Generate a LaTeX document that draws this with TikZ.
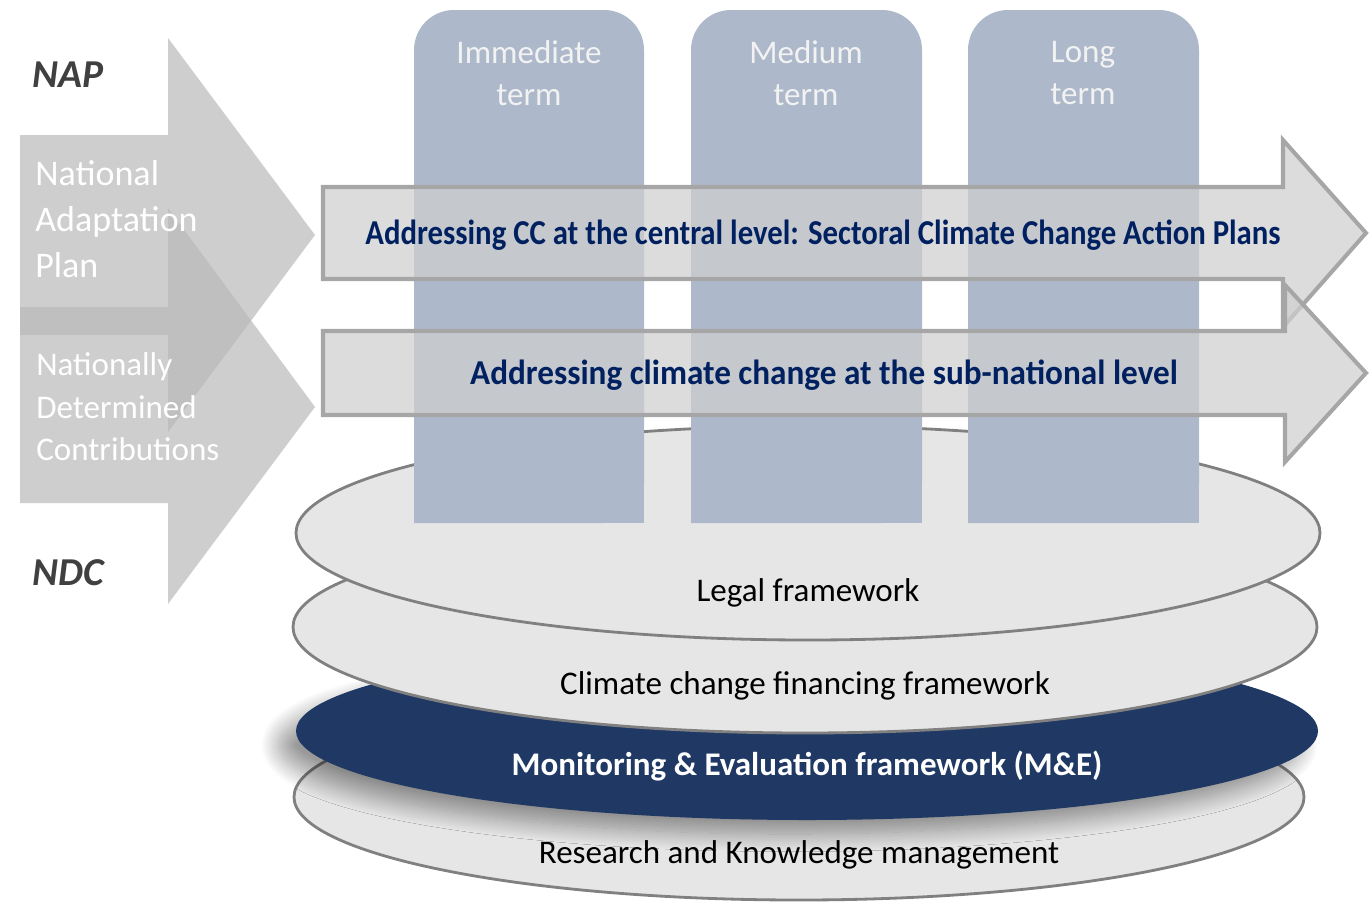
\documentclass[tikz,border=0pt]{standalone}
\usepackage{fontspec}
\setmainfont{Carlito}
\newfontfamily\tightfont[FakeStretch=0.88]{Carlito}
\newfontfamily\looserfont[FakeStretch=0.95]{Carlito}
\usetikzlibrary{shadows.blur}
\definecolor{colblue}{RGB}{173,185,202}
\definecolor{coltext}{RGB}{242,242,242}
\definecolor{navy}{RGB}{0,32,96}
\definecolor{meblue}{RGB}{31,56,100}
\definecolor{layergray}{RGB}{230,230,230}
\definecolor{edgegray}{RGB}{128,128,128}
\definecolor{bandgray}{RGB}{207,207,207}
\definecolor{bandedge}{RGB}{166,166,166}
\definecolor{sidegray}{RGB}{185,185,185}
\definecolor{tagdark}{RGB}{64,64,64}
\begin{document}
\begin{tikzpicture}[x=0.02cm,y=-0.02cm]
\tikzstyle{every node}+=[inner sep=0pt]
\tikzstyle{layer}=[fill=layergray,draw=edgegray,line width=1.6pt]
\tikzstyle{band}=[fill=bandgray,fill opacity=0.73,draw=bandedge,line width=2.3pt]
\tikzstyle{sidearrow}=[fill=sidegray,fill opacity=0.7]
\tikzstyle{termbox}=[fill=colblue,rounded corners=0.8cm]
\tikzstyle{termtext}=[text=coltext,align=center,font=\fontsize{18.8}{23.9}\selectfont]
\tikzstyle{bandtext}=[text=navy,anchor=base]
\tikzstyle{layertext}=[anchor=base,font=\fontsize{18.8}{24}\selectfont]
\tikzstyle{sidetext}=[text=white,anchor=west,align=left]
\tikzstyle{tag}=[anchor=base west,text=tagdark,font=\bfseries\itshape\fontsize{22.5}{26}\selectfont]
\useasboundingbox (0,0) rectangle (1372,903);
% layers, bottom one first
\draw [layer] (799,797) ellipse [x radius=505, y radius=103];
\fill [meblue, blur shadow={shadow xshift=-10pt, shadow yshift=-8pt, shadow blur radius=10pt, shadow blur steps=20, shadow opacity=40}] (807,731) ellipse [x radius=511, y radius=89];
\draw [layer] (805,627) ellipse [x radius=512, y radius=106];
\draw [layer] (808,533) ellipse [x radius=512, y radius=107];
% time horizons
\fill [termbox] (414,523) -- (414,10) -- (644,10) -- (644,523) [sharp corners] -- cycle;
\fill [termbox] (691,523) -- (691,10) -- (922,10) -- (922,523) [sharp corners] -- cycle;
\fill [termbox] (968,523) -- (968,10) -- (1199,10) -- (1199,523) [sharp corners] -- cycle;
\fill [colblue] (414,300) rectangle (644,523);
\fill [colblue] (691,300) rectangle (922,523);
\fill [colblue] (968,300) rectangle (1199,523);
% horizontal arrows
\draw [band] (323,187) -- (1283,187) -- (1283,140) -- (1366,233) -- (1283,327) -- (1283,279) -- (323,279) -- cycle;
\draw [band] (323,331) -- (1285,331) -- (1285,285) -- (1366,373) -- (1285,462) -- (1285,415) -- (323,415) -- cycle;
% NAP and NDC arrows
\fill [sidearrow] (20,135) -- (168,135) -- (168,38) -- (315,235) -- (168,432) -- (168,335) -- (20,335) -- cycle;
\fill [sidearrow] (20,307) -- (168,307) -- (168,208) -- (315,407) -- (168,604) -- (168,503) -- (20,503) -- cycle;
\node [tag] (napname) at (32,87) {NAP};
\node [tag] (ndcname) at (32,585) {NDC};
\node [sidetext,font=\fontsize{20.5}{26}\selectfont] (naptext) at (35,219) {National\\Adaptation\\Plan};
\node [sidetext,font=\fontsize{18.8}{24.2}\selectfont] (ndctext) at (36,407) {Nationally\\Determined\\Contributions};
\node [termtext] (immterm) at (529,73) {Immediate\\term};
\node [termtext] (medterm) at (806,73) {Medium\\term};
\node [termtext] (longterm) at (1083,73) {Long\\term};
\node [bandtext,font=\tightfont\bfseries\fontsize{19.9}{24}\selectfont] (centralcc) at (823,244) {Addressing CC at the central level: Sectoral Climate Change Action Plans};
\node [bandtext,font=\looserfont\bfseries\fontsize{19.9}{24}\selectfont] (subnatcc) at (824,384) {Addressing climate change at the sub-national level};
\node [layertext] (legal) at (808,601) {Legal framework};
\node [layertext] (finance) at (805,694) {Climate change financing framework};
\node [layertext,text=white,font=\bfseries\fontsize{18.8}{24}\selectfont] (mande) at (807,775) {Monitoring \& Evaluation framework (M\&E)};
\node [layertext] (research) at (799,863) {Research and Knowledge management};
\end{tikzpicture}
\end{document}
